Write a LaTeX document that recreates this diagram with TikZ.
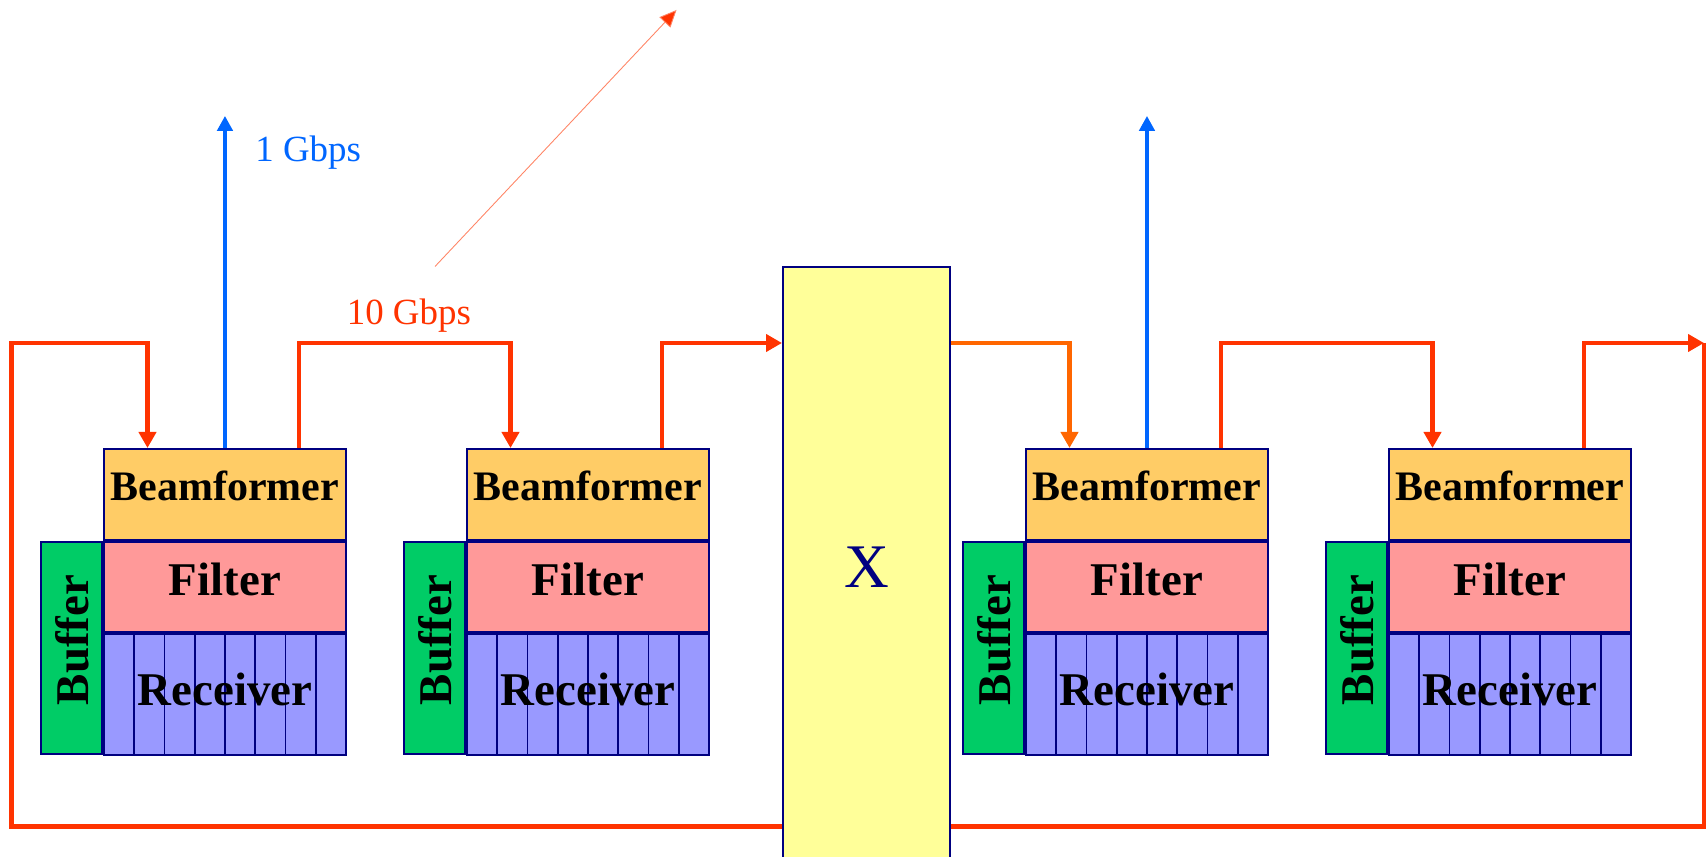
\documentclass[tikz,border=0pt]{standalone}
\usepackage{fontspec}
\setmainfont{Liberation Serif}
\usetikzlibrary{positioning,arrows.meta}

\definecolor{navy}{HTML}{000080}
\definecolor{beamfill}{HTML}{FFCC66}
\definecolor{filtfill}{HTML}{FF9999}
\definecolor{recvfill}{HTML}{9999FF}
\definecolor{bufffill}{HTML}{00CC66}
\definecolor{xfill}{HTML}{FFFF99}
\definecolor{busred}{HTML}{FF3300}
\definecolor{busorange}{HTML}{FF6600}
\definecolor{gbblue}{HTML}{0066FF}

\tikzset{
	block/.style={draw=navy, line width=1.1pt, inner sep=0pt, text depth=0.3cm, font=\fontsize{26.7}{30}\selectfont\bfseries},
	beam/.style={block, fill=beamfill, minimum width=4.84cm, minimum height=1.82cm, text depth=0.34cm, font=\fontsize{23.9}{28}\selectfont\bfseries},
	filt/.style={block, fill=filtfill, minimum width=4.84cm, minimum height=1.81cm},
	recv/.style={block, fill=recvfill, minimum width=4.84cm, minimum height=2.42cm, text depth=0.22cm,
		path picture={\foreach \k in {1,...,7}
			\draw[navy, line width=1.1pt] ([xshift=\k*0.605cm]path picture bounding box.south west) -- ([xshift=\k*0.605cm]path picture bounding box.north west);}},
	buff/.style={block, fill=bufffill, minimum width=4.25cm, minimum height=1.22cm, text depth=0pt, rotate=90},
	xbox/.style={draw=navy, line width=1.1pt, fill=xfill, text=navy, minimum width=3.34cm, minimum height=12cm, font=\fontsize{35.3}{40}\selectfont},
	rate/.style={inner sep=0pt, anchor=base west, font=\fontsize{21}{24}\selectfont},
	bus/.style={busred, line width=2.7pt, -{Triangle[length=0.32cm,width=0.34cm]}},
	xout/.style={busorange, line width=2.3pt, -{Triangle[length=0.32cm,width=0.34cm]}},
	gbit/.style={gbblue, line width=1.9pt, -{Triangle[length=0.3cm,width=0.31cm]}},
	skew/.style={busred!60, line width=0.5pt, -{Triangle[length=0.34cm,width=0.3cm,fill=busred]}}
}

\begin{document}
\begin{tikzpicture}
	\useasboundingbox (0,0) rectangle (34.16,17.12);

	\node [beam, anchor=north west] (bf1) at (2.06,8.16) {Beamformer};
	\node [filt, below=0pt of bf1] (fl1) {Filter};
	\node [recv, below=0pt of fl1] (rx1) {Receiver};
	\node [buff, anchor=south east] (bu1) at (fl1.north west) {\hspace*{0.32cm}Buffer};

	\node [beam, anchor=north west] (bf2) at (9.32,8.16) {Beamformer};
	\node [filt, below=0pt of bf2] (fl2) {Filter};
	\node [recv, below=0pt of fl2] (rx2) {Receiver};
	\node [buff, anchor=south east] (bu2) at (fl2.north west) {\hspace*{0.32cm}Buffer};

	\node [beam, anchor=north west] (bf3) at (20.5,8.16) {Beamformer};
	\node [filt, below=0pt of bf3] (fl3) {Filter};
	\node [recv, below=0pt of fl3] (rx3) {Receiver};
	\node [buff, anchor=south east] (bu3) at (fl3.north west) {\hspace*{0.32cm}Buffer};

	\node [beam, anchor=north west] (bf4) at (27.76,8.16) {Beamformer};
	\node [filt, below=0pt of bf4] (fl4) {Filter};
	\node [recv, below=0pt of fl4] (rx4) {Receiver};
	\node [buff, anchor=south east] (bu4) at (fl4.north west) {\hspace*{0.32cm}Buffer};

	\coordinate (in1) at ([xshift=0.89cm]bf1.north west);
	\coordinate (out1) at ([xshift=3.92cm]bf1.north west);
	\coordinate (in2) at ([xshift=0.89cm]bf2.north west);
	\coordinate (out2) at ([xshift=3.92cm]bf2.north west);
	\coordinate (in3) at ([xshift=0.89cm]bf3.north west);
	\coordinate (out3) at ([xshift=3.92cm]bf3.north west);
	\coordinate (in4) at ([xshift=0.89cm]bf4.north west);
	\coordinate (out4) at ([xshift=3.92cm]bf4.north west);

	\coordinate (busL) at (0.23,10.26);
	\coordinate (busR) at (34.08,10.26);
	\coordinate (loopSW) at (0.23,0.59);
	\coordinate (loopSE) at (34.08,0.59);
	\coordinate (top) at (0,14.8);

	\draw [bus] (busR) -- (loopSE) -- (loopSW) -- (busL) -| (in1);

	\node [xbox, anchor=north west] (xb) at (15.64,11.8) {X};

	\draw [bus] (out1) -- (out1 |- busL) -| (in2);
	\draw [bus] (out2) |- (xb.west |- busL);
	\draw [xout] (xb.east |- busL) -| (in3);
	\draw [bus] (out3) -- (out3 |- busL) -| (in4);
	\draw [bus] (out4) |- (busR);

	\draw [gbit] (bf1.north) -- (bf1.north |- top);
	\draw [gbit] (bf3.north) -- (bf3.north |- top);

	\coordinate (d1) at (8.7,11.79);
	\coordinate (d2) at (13.53,16.92);
	\draw [skew] (d1) -- (d2);

	\node [rate, text=gbblue] (lb1) at (5.1,13.89) {1 Gbps};
	\node [rate, text=busred] (lb10) at (6.93,10.62) {10 Gbps};
\end{tikzpicture}
\end{document}
